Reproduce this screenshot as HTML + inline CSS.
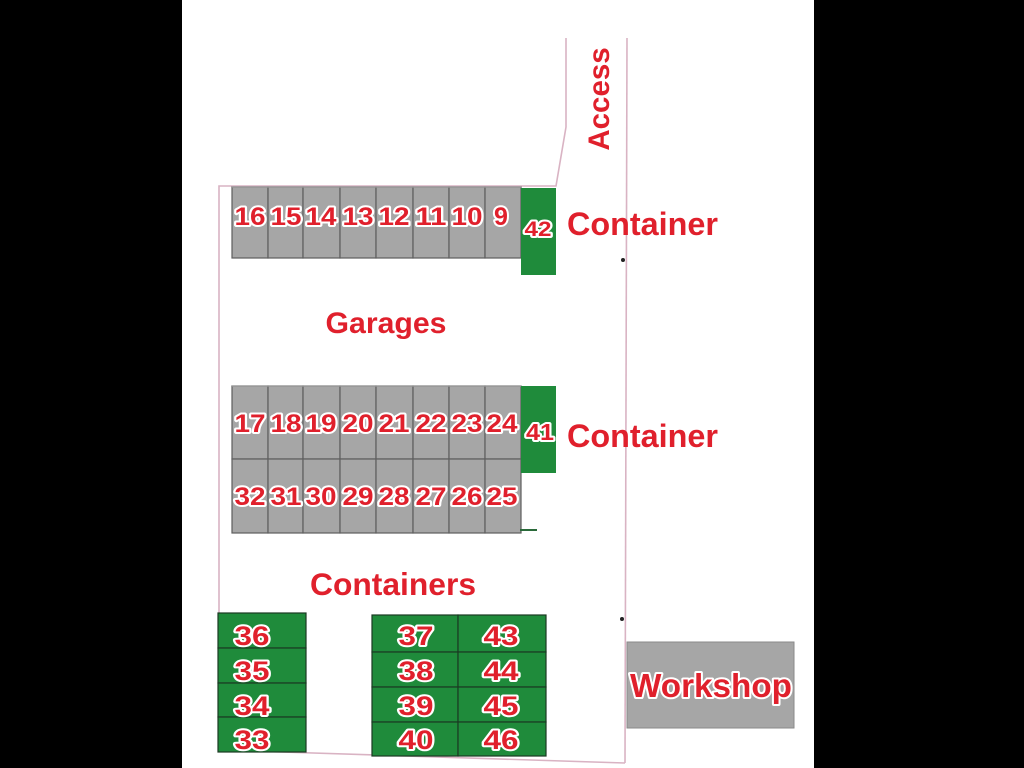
<!DOCTYPE html>
<html>
<head>
<meta charset="utf-8">
<style>
html,body{margin:0;padding:0;background:#000;}
svg{display:block;}
text{font-family:"Liberation Sans",sans-serif;font-weight:bold;fill:#e0202c;}
.n{paint-order:stroke;stroke:#fff;stroke-width:4px;stroke-linejoin:round;text-anchor:middle;}
</style>
</head>
<body>
<svg width="1024" height="768" viewBox="0 0 1024 768" xmlns="http://www.w3.org/2000/svg">
<rect x="0" y="0" width="1024" height="768" fill="#000"/>
<rect x="182" y="0" width="632" height="768" fill="#fff"/>

<!-- site boundary -->
<g fill="none" stroke="#d9b3c3" stroke-width="1.6">
<polyline points="566,38 566,127 556,186 219,186 219,750 625,763"/>
<line x1="627" y1="38" x2="625" y2="763"/>
</g>
<circle cx="623" cy="260" r="2" fill="#222"/>
<circle cx="622" cy="619" r="2" fill="#222"/>

<!-- gray garage row 1 -->
<g fill="#a6a6a6" stroke="#5e5e5e" stroke-width="1.2">
<rect x="232" y="187" width="36" height="71"/>
<rect x="268" y="187" width="35" height="71"/>
<rect x="303" y="187" width="37" height="71"/>
<rect x="340" y="187" width="36" height="71"/>
<rect x="376" y="187" width="37" height="71"/>
<rect x="413" y="187" width="36" height="71"/>
<rect x="449" y="187" width="36" height="71"/>
<rect x="485" y="187" width="36" height="71"/>
</g>
<line x1="232" y1="187" x2="521" y2="187" stroke="#9a9a9a" stroke-width="1.2"/>
<!-- gray rows 2/3 -->
<g fill="#a6a6a6" stroke="#5e5e5e" stroke-width="1.2">
<rect x="232" y="386" width="36" height="73"/>
<rect x="268" y="386" width="35" height="73"/>
<rect x="303" y="386" width="37" height="73"/>
<rect x="340" y="386" width="36" height="73"/>
<rect x="376" y="386" width="37" height="73"/>
<rect x="413" y="386" width="36" height="73"/>
<rect x="449" y="386" width="36" height="73"/>
<rect x="485" y="386" width="36" height="73"/>
<rect x="232" y="459" width="36" height="74"/>
<rect x="268" y="459" width="35" height="74"/>
<rect x="303" y="459" width="37" height="74"/>
<rect x="340" y="459" width="36" height="74"/>
<rect x="376" y="459" width="37" height="74"/>
<rect x="413" y="459" width="36" height="74"/>
<rect x="449" y="459" width="36" height="74"/>
<rect x="485" y="459" width="36" height="74"/>
</g>
<line x1="232" y1="386" x2="521" y2="386" stroke="#9a9a9a" stroke-width="1.2"/>
<line x1="520" y1="530" x2="537" y2="530" stroke="#2a6a3a" stroke-width="2"/>

<!-- green containers by garages -->
<rect x="521" y="188" width="35" height="87" fill="#1f8b3b"/>
<rect x="521" y="386" width="35" height="87" fill="#1f8b3b"/>

<!-- bottom container blocks -->
<g fill="#1f8b3b" stroke="#1a3a22" stroke-width="1.2">
<rect x="218" y="613" width="88" height="35"/>
<rect x="218" y="648" width="88" height="35"/>
<rect x="218" y="683" width="88" height="34"/>
<rect x="218" y="717" width="88" height="35"/>
<rect x="372" y="615" width="86" height="37"/>
<rect x="458" y="615" width="88" height="37"/>
<rect x="372" y="652" width="86" height="35"/>
<rect x="458" y="652" width="88" height="35"/>
<rect x="372" y="687" width="86" height="35"/>
<rect x="458" y="687" width="88" height="35"/>
<rect x="372" y="722" width="86" height="34"/>
<rect x="458" y="722" width="88" height="34"/>
</g>

<!-- workshop -->
<rect x="627" y="642" width="167" height="86" fill="#a6a6a6" stroke="#8a8a8a" stroke-width="1"/>

<!-- row 1 numbers -->
<text class="n" font-size="25" x="250" y="225" textLength="31" lengthAdjust="spacingAndGlyphs">16</text>
<text class="n" font-size="25" x="286" y="225" textLength="31" lengthAdjust="spacingAndGlyphs">15</text>
<text class="n" font-size="25" x="321" y="225" textLength="31" lengthAdjust="spacingAndGlyphs">14</text>
<text class="n" font-size="25" x="358" y="225" textLength="31" lengthAdjust="spacingAndGlyphs">13</text>
<text class="n" font-size="25" x="394" y="225" textLength="31" lengthAdjust="spacingAndGlyphs">12</text>
<text class="n" font-size="25" x="431" y="225" textLength="31" lengthAdjust="spacingAndGlyphs">11</text>
<text class="n" font-size="25" x="467" y="225" textLength="31" lengthAdjust="spacingAndGlyphs">10</text>
<text class="n" font-size="25" x="501" y="225">9</text>
<text class="n" x="538" y="236" font-size="21" textLength="27" lengthAdjust="spacingAndGlyphs">42</text>

<!-- row 2 numbers -->
<text class="n" font-size="25" x="250" y="432" textLength="31" lengthAdjust="spacingAndGlyphs">17</text>
<text class="n" font-size="25" x="286" y="432" textLength="31" lengthAdjust="spacingAndGlyphs">18</text>
<text class="n" font-size="25" x="321" y="432" textLength="31" lengthAdjust="spacingAndGlyphs">19</text>
<text class="n" font-size="25" x="358" y="432" textLength="31" lengthAdjust="spacingAndGlyphs">20</text>
<text class="n" font-size="25" x="394" y="432" textLength="31" lengthAdjust="spacingAndGlyphs">21</text>
<text class="n" font-size="25" x="431" y="432" textLength="31" lengthAdjust="spacingAndGlyphs">22</text>
<text class="n" font-size="25" x="467" y="432" textLength="31" lengthAdjust="spacingAndGlyphs">23</text>
<text class="n" font-size="25" x="502" y="432" textLength="31" lengthAdjust="spacingAndGlyphs">24</text>
<text class="n" font-size="23" x="540" y="440" textLength="28" lengthAdjust="spacingAndGlyphs">41</text>

<!-- row 3 numbers -->
<text class="n" font-size="25" x="250" y="505" textLength="31" lengthAdjust="spacingAndGlyphs">32</text>
<text class="n" font-size="25" x="286" y="505" textLength="31" lengthAdjust="spacingAndGlyphs">31</text>
<text class="n" font-size="25" x="321" y="505" textLength="31" lengthAdjust="spacingAndGlyphs">30</text>
<text class="n" font-size="25" x="358" y="505" textLength="31" lengthAdjust="spacingAndGlyphs">29</text>
<text class="n" font-size="25" x="394" y="505" textLength="31" lengthAdjust="spacingAndGlyphs">28</text>
<text class="n" font-size="25" x="431" y="505" textLength="31" lengthAdjust="spacingAndGlyphs">27</text>
<text class="n" font-size="25" x="467" y="505" textLength="31" lengthAdjust="spacingAndGlyphs">26</text>
<text class="n" font-size="25" x="502" y="505" textLength="31" lengthAdjust="spacingAndGlyphs">25</text>

<!-- container numbers -->
<g>
<text class="n" font-size="27" x="252" y="645" textLength="35" lengthAdjust="spacingAndGlyphs">36</text>
<text class="n" font-size="27" x="252" y="680" textLength="35" lengthAdjust="spacingAndGlyphs">35</text>
<text class="n" font-size="27" x="252" y="715" textLength="35" lengthAdjust="spacingAndGlyphs">34</text>
<text class="n" font-size="27" x="252" y="749" textLength="35" lengthAdjust="spacingAndGlyphs">33</text>
<text class="n" font-size="27" x="416" y="645" textLength="35" lengthAdjust="spacingAndGlyphs">37</text>
<text class="n" font-size="27" x="416" y="680" textLength="35" lengthAdjust="spacingAndGlyphs">38</text>
<text class="n" font-size="27" x="416" y="715" textLength="35" lengthAdjust="spacingAndGlyphs">39</text>
<text class="n" font-size="27" x="416" y="749" textLength="35" lengthAdjust="spacingAndGlyphs">40</text>
<text class="n" font-size="27" x="501" y="645" textLength="35" lengthAdjust="spacingAndGlyphs">43</text>
<text class="n" font-size="27" x="501" y="680" textLength="35" lengthAdjust="spacingAndGlyphs">44</text>
<text class="n" font-size="27" x="501" y="715" textLength="35" lengthAdjust="spacingAndGlyphs">45</text>
<text class="n" font-size="27" x="501" y="749" textLength="35" lengthAdjust="spacingAndGlyphs">46</text>
</g>

<!-- labels -->
<text x="567" y="235" font-size="32" textLength="151" lengthAdjust="spacingAndGlyphs">Container</text>
<text x="567" y="447" font-size="32" textLength="151" lengthAdjust="spacingAndGlyphs">Container</text>
<text x="386" y="333" font-size="30" text-anchor="middle" textLength="121" lengthAdjust="spacingAndGlyphs">Garages</text>
<text x="393" y="595" font-size="31.5" text-anchor="middle" textLength="166" lengthAdjust="spacingAndGlyphs">Containers</text>
<text transform="translate(609,99) rotate(-90)" font-size="29.5" text-anchor="middle">Access</text>
<text class="n" x="711" y="697" font-size="33" textLength="162" lengthAdjust="spacingAndGlyphs">Workshop</text>
</svg>
</body>
</html>
